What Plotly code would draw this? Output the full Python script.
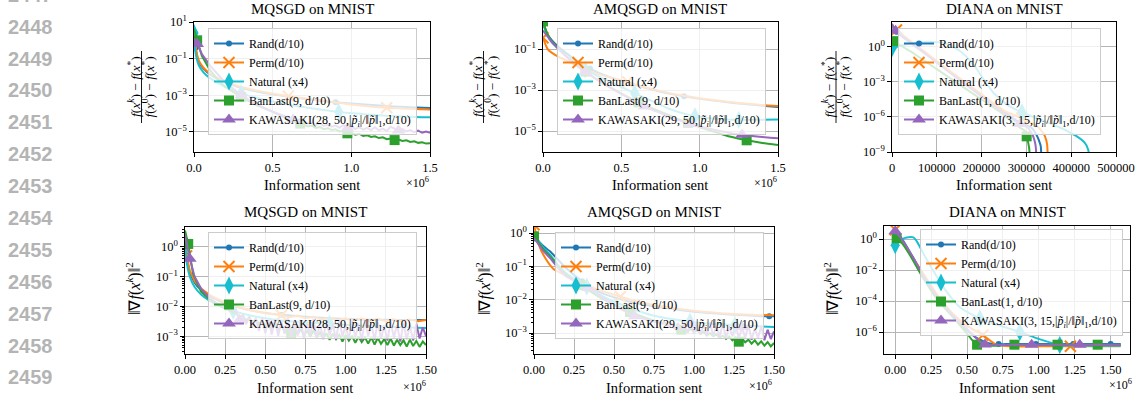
import numpy as np
import plotly.graph_objects as go

W, H = 1138, 400

# ---------------- colours / names ----------------
C_RAND, C_PERM, C_NAT, C_BAN, C_KAW = "#1f77b4", "#ff7f0e", "#17becf", "#2ca02c", "#9467bd"
KAW_TXT = "|<i>p̃</i><sub><i>i</i></sub>|/‖<i>p̃</i>‖<sub>1</sub>,d/10)"
NAMES_A = ["Rand(d/10)", "Perm(d/10)", "Natural (x4)", "BanLast(9, d/10)", "KAWASAKI(28, 50," + KAW_TXT]
NAMES_B = ["Rand(d/10)", "Perm(d/10)", "Natural (x4)", "BanLast(9, d/10)", "KAWASAKI(29, 50," + KAW_TXT]
NAMES_C = ["Rand(d/10)", "Perm(d/10)", "Natural (x4)", "BanLast(1, d/10)", "KAWASAKI(3, 15," + KAW_TXT]
TITLES = ["MQSGD on MNIST", "AMQSGD on MNIST", "DIANA on MNIST"]
LINE_NUMBERS = ["2447", "2448", "2449", "2450", "2451", "2452", "2453",
                "2454", "2455", "2456", "2457", "2458", "2459"]

# ---------------- data (y as log10 values) ----------------
# Top-left: MQSGD, relative f gap, x in 1e6 units
tl_rand_x = [0, 0.01, 0.03, 0.06, 0.1, 0.2, 0.3, 0.5, 0.75, 0.9, 1.0, 1.25, 1.5]
tl_rand_y = [0.7, -0.4, -1.15, -1.55, -1.85, -2.3, -2.6, -2.95, -3.25, -3.38, -3.45, -3.6, -3.7]
tl_perm_x = [0, 0.01, 0.03, 0.06, 0.1, 0.2, 0.3, 0.6, 0.75, 1.0, 1.225, 1.5]
tl_perm_y = [0.8, -0.3, -1.1, -1.5, -1.8, -2.25, -2.55, -3.05, -3.22, -3.5, -3.68, -3.78]
tl_nat_x = [0, 0.01, 0.03, 0.06, 0.1, 0.2, 0.3, 0.45, 0.62, 0.75, 0.92, 1.1, 1.22, 1.35, 1.5]
tl_nat_y = [0.4, -0.7, -1.35, -1.75, -2.05, -2.55, -2.9, -3.25, -3.55, -3.72, -3.92, -4.05, -4.12, -4.17, -4.2]
tl_ban_x = [0, 0.02, 0.05, 0.1, 0.15, 0.2, 0.3, 0.4, 0.5, 0.6, 0.675,
            0.7, 0.725, 0.75, 0.775, 0.8, 0.825, 0.85, 0.875, 0.9, 0.925, 0.95, 0.975, 1.0,
            1.025, 1.05, 1.075, 1.1, 1.125, 1.15, 1.175, 1.2, 1.225, 1.25, 1.275, 1.3,
            1.325, 1.35, 1.375, 1.4, 1.425, 1.45, 1.475, 1.5]
tl_ban_y = [0.6, 0.0, -0.85, -1.6, -2.15, -2.55, -3.1, -3.55, -3.9, -4.3, -4.55,
            -4.62, -4.70, -4.66, -4.78, -4.74, -4.85, -4.80, -4.90, -4.86, -4.98, -4.95, -5.08, -5.05,
            -5.15, -5.10, -5.22, -5.18, -5.28, -5.24, -5.34, -5.30, -5.40, -5.36, -5.45, -5.42,
            -5.50, -5.46, -5.55, -5.52, -5.60, -5.57, -5.64, -5.62]
tl_kaw_x = [0, 0.02, 0.05, 0.1, 0.15, 0.2, 0.3, 0.4, 0.5, 0.6, 0.63,
            0.65, 0.675, 0.7, 0.725, 0.75, 0.775, 0.8, 0.825, 0.85, 0.875, 0.9, 0.925, 0.95,
            0.975, 1.0, 1.025, 1.05, 1.075, 1.1, 1.125, 1.15, 1.175, 1.2, 1.225, 1.25, 1.275,
            1.3, 1.325, 1.35, 1.375, 1.4, 1.425, 1.45, 1.475, 1.5]
tl_kaw_y = [0.1, -0.2, -0.75, -1.35, -1.85, -2.3, -3.0, -3.5, -3.9, -4.22, -4.33,
            -4.40, -4.45, -4.42, -4.55, -4.50, -4.62, -4.55, -4.68, -4.60, -4.72, -4.66, -4.78, -4.62,
            -4.80, -4.70, -4.85, -4.74, -4.88, -4.78, -4.90, -4.75, -4.92, -4.82, -4.95, -4.72, -4.80,
            -4.92, -4.85, -4.98, -4.90, -5.02, -4.93, -5.05, -4.98, -5.05]

# Top-middle: AMQSGD, relative f gap
tm_rand_x = [0, 0.03, 0.06, 0.1, 0.15, 0.2, 0.3, 0.4, 0.5, 0.6, 0.75, 0.9, 1.0, 1.1, 1.25, 1.4, 1.5]
tm_rand_y = [0.3, -0.3, -0.6, -0.9, -1.2, -1.5, -1.95, -2.3, -2.55, -2.78, -3.08, -3.3, -3.42, -3.52, -3.66, -3.76, -3.82]
tm_perm_x = [0, 0.03, 0.06, 0.1, 0.15, 0.2, 0.3, 0.4, 0.54, 0.6, 0.75, 0.9, 1.0, 1.1, 1.25, 1.4, 1.5]
tm_perm_y = [-0.45, -1.0, -1.2, -1.38, -1.55, -1.75, -2.08, -2.33, -2.6, -2.75, -3.05, -3.28, -3.4, -3.5, -3.63, -3.73, -3.78]
tm_nat_x = [0, 0.03, 0.06, 0.1, 0.15, 0.2, 0.27, 0.4, 0.5, 0.585, 0.7, 0.8, 0.9, 0.97, 1.05, 1.15, 1.25, 1.35, 1.5]
tm_nat_y = [0.2, -0.35, -0.7, -1.0, -1.35, -1.65, -2.0, -2.5, -2.85, -3.15, -3.55, -3.9, -4.15, -4.28, -4.36, -4.42, -4.45, -4.45, -4.43]
tm_ban_x = [0, 0.03, 0.06, 0.1, 0.15, 0.2, 0.27, 0.35, 0.45, 0.61, 0.75, 0.85, 0.925, 1.0, 1.1, 1.2, 1.3, 1.4, 1.5]
tm_ban_y = [0.35, -0.3, -0.65, -0.95, -1.35, -1.7, -2.1, -2.5, -2.95, -3.6, -4.05, -4.38, -4.6, -4.82, -5.05, -5.28, -5.45, -5.58, -5.68]
tm_kaw_x = [0, 0.03, 0.06, 0.1, 0.15, 0.2, 0.27, 0.35, 0.45, 0.55, 0.65, 0.75, 0.85, 0.94, 1.0, 1.1, 1.2, 1.27, 1.35, 1.45, 1.5]
tm_kaw_y = [-0.1, -0.4, -0.7, -1.0, -1.38, -1.72, -2.12, -2.52, -2.98, -3.4, -3.8, -4.12, -4.42, -4.66, -4.78, -4.95, -5.1, -5.18, -5.25, -5.32, -5.35]

# Top-right: DIANA, relative f gap, raw information sent
tr_rand_x = [0, 10000, 50000, 100000, 150000, 200000, 250000, 280000, 300000, 312000, 322000, 328000, 332000, 334000]
tr_rand_y = [1.8, 1.3, 0.1, -1.3, -2.75, -4.15, -5.55, -6.35, -6.7, -6.95, -7.5, -8.0, -8.5, -12]
tr_perm_x = [0, 10000, 50000, 100000, 150000, 200000, 250000, 289500, 305000, 319000, 332000, 341500, 346000, 349000]
tr_perm_y = [1.9, 1.45, 0.25, -1.2, -2.65, -4.05, -5.45, -6.1, -6.4, -6.66, -7.1, -7.66, -8.3, -12]
tr_nat_x = [0, 40000, 80000, 120000, 150000, 180000, 205000, 226000, 255000, 290000, 330000, 375000, 410000, 430000, 438000, 442000]
tr_nat_y = [-0.1, 0.3, 0.45, 0.3, -0.3, -1.4, -2.8, -3.9, -4.9, -5.6, -6.2, -6.9, -7.6, -8.2, -8.8, -12]
tr_ban_x = [0, 5000, 50000, 100000, 150000, 200000, 245000, 267000, 285000, 297000, 300600, 304000, 306500, 308000]
tr_ban_y = [0.8, 0.5, -0.6, -1.9, -3.2, -4.5, -5.66, -6.4, -6.9, -7.2, -7.66, -8.2, -8.8, -12]
tr_kaw_x = [0, 8000, 50000, 100000, 150000, 200000, 250000, 285700, 303600, 312000, 318000, 321000, 323000]
tr_kaw_y = [2.0, 1.4, 0.15, -1.35, -2.8, -4.25, -5.7, -6.6, -6.94, -7.4, -8.0, -8.6, -12]

# Bottom-left: MQSGD, squared gradient norm
bl_rand_x = [0, 0.01, 0.03, 0.06, 0.1, 0.15, 0.2, 0.3, 0.4, 0.5, 0.6, 0.75, 0.9, 1.0, 1.1, 1.25, 1.4, 1.5]
bl_rand_y = [0.5, -0.3, -0.85, -1.2, -1.45, -1.63, -1.78, -1.98, -2.12, -2.22, -2.28, -2.35, -2.4, -2.42, -2.44, -2.45, -2.46, -2.46]
bl_perm_x = [0, 0.01, 0.03, 0.06, 0.1, 0.15, 0.2, 0.3, 0.4, 0.5, 0.6, 0.65, 0.7, 0.75, 0.8, 0.85, 0.9,
             0.95, 1.0, 1.05, 1.1, 1.15, 1.2, 1.25, 1.3, 1.35, 1.4, 1.45, 1.5]
bl_perm_y = [0.3, -0.3, -0.8, -1.15, -1.4, -1.6, -1.75, -1.97, -2.12, -2.23, -2.3, -2.36, -2.31, -2.4, -2.35, -2.44, -2.38,
             -2.46, -2.4, -2.48, -2.41, -2.49, -2.42, -2.5, -2.43, -2.5, -2.44, -2.5, -2.46]
bl_nat_x = [0, 0.01, 0.03, 0.06, 0.1, 0.15, 0.2, 0.3, 0.4, 0.5, 0.6, 0.75, 0.9, 1.0, 1.1, 1.25, 1.4, 1.5]
bl_nat_y = [0.4, -0.5, -1.0, -1.35, -1.6, -1.8, -1.95, -2.15, -2.3, -2.4, -2.47, -2.53, -2.58, -2.62, -2.65, -2.68, -2.71, -2.73]
bl_ban_x = [0, 0.02, 0.05, 0.1, 0.15, 0.2, 0.3,
            0.32, 0.34, 0.36, 0.38, 0.40, 0.42, 0.44, 0.46, 0.48, 0.50, 0.52, 0.54, 0.56, 0.58, 0.60,
            0.62, 0.64, 0.66, 0.68, 0.70, 0.72, 0.74, 0.76, 0.78, 0.80, 0.82, 0.84, 0.86, 0.88, 0.90,
            0.92, 0.94, 0.96, 0.98, 1.00, 1.02, 1.04, 1.06, 1.08, 1.10, 1.12, 1.14, 1.16, 1.18, 1.20,
            1.22, 1.24, 1.26, 1.28, 1.30, 1.32, 1.34, 1.36, 1.38, 1.40, 1.42, 1.44, 1.46, 1.48, 1.50]
bl_ban_y = [0.55, 0.1, -0.9, -1.5, -1.75, -1.95, -2.2,
            -2.22, -2.40, -2.30, -2.48, -2.36, -2.55, -2.42, -2.60, -2.47, -2.68, -2.52, -2.75, -2.60, -2.80, -2.62,
            -2.85, -2.70, -2.90, -2.72, -2.95, -2.76, -2.98, -2.82, -3.02, -2.80, -3.05, -2.88, -3.08, -2.90, -3.12,
            -2.92, -3.10, -2.95, -3.18, -2.96, -3.15, -3.00, -3.22, -3.02, -3.20, -3.04, -3.25, -3.05, -3.28, -3.06,
            -3.26, -3.10, -3.30, -3.08, -3.32, -3.12, -3.30, -3.14, -3.35, -3.12, -3.33, -3.16, -3.36, -3.18, -3.30]
bl_kaw_x = [0, 0.03, 0.06, 0.1, 0.15, 0.2, 0.3,
            0.32, 0.34, 0.36, 0.38, 0.40, 0.42, 0.44, 0.46, 0.48, 0.50, 0.52, 0.54, 0.56, 0.58, 0.60,
            0.62, 0.64, 0.66, 0.68, 0.70, 0.72, 0.74, 0.76, 0.78, 0.80, 0.82, 0.84, 0.86, 0.88, 0.90,
            0.92, 0.94, 0.96, 0.98, 1.00, 1.02, 1.04, 1.06, 1.08, 1.10, 1.12, 1.14, 1.16, 1.18, 1.20,
            1.22, 1.24, 1.26, 1.28, 1.30, 1.32, 1.34, 1.36, 1.38, 1.40, 1.42, 1.44, 1.46, 1.48, 1.50]
bl_kaw_y = [0.4, -0.4, -1.0, -1.4, -1.7, -1.9, -2.15,
            -2.20, -2.45, -2.28, -2.60, -2.35, -2.70, -2.40, -2.82, -2.38, -2.90, -2.45, -2.95, -2.42, -3.00, -2.50,
            -2.92, -2.40, -3.05, -2.52, -2.98, -2.45, -3.08, -2.55, -2.96, -2.42, -3.05, -2.58, -3.10, -2.48, -2.98,
            -2.60, -3.12, -2.45, -3.02, -2.62, -3.10, -2.50, -3.05, -2.58, -3.15, -2.46, -3.00, -2.60, -3.12, -2.52,
            -3.08, -2.64, -3.15, -2.50, -3.05, -2.62, -3.18, -2.55, -3.10, -2.66, -3.15, -2.58, -3.08, -2.70, -3.00]

# Bottom-middle: AMQSGD, squared gradient norm
bm_rand_x = [0, 0.03, 0.06, 0.1, 0.15, 0.2, 0.3, 0.4, 0.5, 0.6, 0.75, 0.9, 1.0, 1.1, 1.25, 1.4, 1.47, 1.5]
bm_rand_y = [-0.1, -0.25, -0.4, -0.55, -0.8, -1.05, -1.45, -1.75, -1.93, -2.06, -2.2, -2.3, -2.36, -2.4, -2.45, -2.49, -2.5, -2.5]
bm_perm_x = [0, 0.03, 0.06, 0.12, 0.225, 0.3, 0.4, 0.54, 0.6, 0.75, 0.9, 1.0, 1.1, 1.25, 1.4, 1.5]
bm_perm_y = [0.25, -0.35, -0.67, -1.07, -1.32, -1.5, -1.7, -1.91, -2.0, -2.16, -2.27, -2.33, -2.38, -2.43, -2.46, -2.47]
bm_nat_x = [0, 0.03, 0.06, 0.1, 0.15, 0.2, 0.33, 0.45, 0.6, 0.75, 0.975, 1.1, 1.256, 1.4, 1.5]
bm_nat_y = [-0.05, -0.25, -0.45, -0.65, -0.95, -1.2, -1.61, -1.95, -2.25, -2.48, -2.66, -2.72, -2.76, -2.8, -2.82]
bm_ban_x = [0, 0.03, 0.06, 0.1, 0.15, 0.2, 0.29, 0.4, 0.5, 0.6, 0.7, 0.8,
            0.82, 0.84, 0.86, 0.88, 0.90, 0.92, 0.94, 0.96, 0.98, 1.00, 1.02, 1.04, 1.06, 1.08, 1.10,
            1.12, 1.14, 1.16, 1.18, 1.20, 1.22, 1.24, 1.26, 1.28, 1.30, 1.32, 1.34, 1.36, 1.38, 1.40,
            1.42, 1.44, 1.46, 1.48, 1.50]
bm_ban_y = [-0.1, -0.3, -0.5, -0.7, -1.0, -1.25, -1.56, -1.9, -2.15, -2.37, -2.55, -2.7,
            -2.72, -2.78, -2.74, -2.84, -2.80, -2.90, -2.84, -2.95, -2.88, -2.98, -2.92, -3.02, -2.96, -3.08, -3.00,
            -3.10, -3.04, -3.14, -3.08, -3.18, -3.10, -3.22, -3.14, -3.26, -3.16, -3.28, -3.20, -3.32, -3.22, -3.35,
            -3.25, -3.38, -3.27, -3.40, -3.30]
bm_kaw_x = [0, 0.03, 0.06, 0.1, 0.15, 0.2, 0.34, 0.45, 0.55, 0.63, 0.72, 0.8,
            0.82, 0.84, 0.86, 0.88, 0.90, 0.92, 0.94, 0.96, 0.98, 1.00, 1.02, 1.04, 1.06, 1.08, 1.10,
            1.12, 1.14, 1.16, 1.18, 1.20, 1.22, 1.24, 1.26, 1.28, 1.30, 1.32, 1.34, 1.36, 1.38, 1.40,
            1.42, 1.44, 1.46, 1.48, 1.50]
bm_kaw_y = [-0.15, -0.35, -0.55, -0.75, -1.05, -1.3, -1.65, -2.0, -2.3, -2.5, -2.62, -2.72,
            -2.70, -2.82, -2.72, -2.88, -2.70, -2.95, -2.68, -3.00, -2.72, -3.02, -2.70, -3.05, -2.75, -3.08, -2.68,
            -3.10, -2.78, -3.12, -2.72, -3.15, -2.80, -3.10, -2.70, -3.18, -2.82, -3.15, -2.75, -3.20, -2.85, -3.15,
            -2.80, -3.22, -2.90, -3.18, -2.95]

# Bottom-right: DIANA, squared gradient norm
br_rand_x = [0, 0.04, 0.1, 0.2, 0.3, 0.4, 0.5, 0.58, 0.65, 0.72, 0.8, 0.98, 1.24, 1.5, 1.57]
br_rand_y = [0.5, 0.1, -0.8, -2.4, -3.9, -5.0, -5.9, -6.45, -6.72, -6.78, -6.78, -6.78, -6.78, -6.78, -6.78]
br_perm_x = [0, 0.04, 0.1, 0.2, 0.3, 0.4, 0.5, 0.61, 0.7, 0.8, 1.0, 1.22, 1.5, 1.57]
br_perm_y = [0.6, 0.0, -0.9, -2.3, -3.7, -4.8, -5.6, -6.2, -6.8, -6.92, -6.92, -6.92, -6.92, -6.92]
br_nat_x = [0, 0.04, 0.08, 0.127, 0.16, 0.2, 0.27, 0.35, 0.45, 0.59, 0.7, 0.868, 1.0, 1.146, 1.3, 1.57]
br_nat_y = [-0.4, -0.05, 0.1, 0.1, -0.3, -1.0, -2.13, -3.3, -4.4, -5.12, -5.5, -6.0, -6.45, -6.84, -6.88, -6.88]
br_ban_x = [0, 0.01, 0.05, 0.1, 0.2, 0.3, 0.4, 0.5, 0.57, 0.83, 1.13, 1.41, 1.57]
br_ban_y = [0.3, 0.05, -0.3, -1.0, -2.6, -4.0, -5.0, -6.1, -6.82, -6.82, -6.82, -6.82, -6.82]
br_kaw_x = [0, 0.04, 0.1, 0.2, 0.3, 0.4, 0.5, 0.6, 0.625, 0.95, 1.285, 1.57]
br_kaw_y = [0.5, 0.05, -0.8, -2.4, -3.8, -4.9, -5.8, -6.7, -6.8, -6.82, -6.82, -6.82]

# y tick labels
YT_TL = ([10, 1e-1, 1e-3, 1e-5], ["10<sup>1</sup>", "10<sup>−1</sup>", "10<sup>−3</sup>", "10<sup>−5</sup>"])
YT_TM = ([1e-1, 1e-3, 1e-5], ["10<sup>−1</sup>", "10<sup>−3</sup>", "10<sup>−5</sup>"])
YT_TR = ([1, 1e-3, 1e-6, 1e-9], ["10<sup>0</sup>", "10<sup>−3</sup>", "10<sup>−6</sup>", "10<sup>−9</sup>"])
YT_BL = ([1, 1e-1, 1e-2, 1e-3], ["10<sup>0</sup>", "10<sup>−1</sup>", "10<sup>−2</sup>", "10<sup>−3</sup>"])
YT_BR = ([1, 1e-2, 1e-4, 1e-6], ["10<sup>0</sup>", "10<sup>−2</sup>", "10<sup>−4</sup>", "10<sup>−6</sup>"])

# ---------------- figure ----------------
fig = go.Figure()

STY = [
    dict(color=C_RAND, symbol="circle", size=6, lw=0),
    dict(color=C_PERM, symbol="x-thin", size=11, lw=2),
    dict(color=C_NAT, symbol="diamond-tall", size=13, lw=0),
    dict(color=C_BAN, symbol="square", size=10, lw=0),
    dict(color=C_KAW, symbol="triangle-up", size=12, lw=0),
]


def mk(s):
    return dict(color=s["color"], symbol=s["symbol"], size=s["size"],
                line=dict(color=s["color"], width=s["lw"]))


def add_curve(k, xs, ly, marks, name, sty, legend, shape):
    xa = "x" if k == 1 else f"x{k}"
    ya = "y" if k == 1 else f"y{k}"
    y = (10.0 ** np.array(ly)).tolist()
    fig.add_trace(go.Scatter(x=xs, y=y, mode="lines", xaxis=xa, yaxis=ya,
                             line=dict(color=sty["color"], width=2, shape=shape, smoothing=0.7),
                             showlegend=False, hoverinfo="skip"))
    fig.add_trace(go.Scatter(x=[xs[i] for i in marks], y=[y[i] for i in marks], mode="markers",
                             xaxis=xa, yaxis=ya, marker=mk(sty), showlegend=False, hoverinfo="skip"))
    fig.add_trace(go.Scatter(x=[None], y=[None], mode="lines+markers", xaxis=xa, yaxis=ya,
                             line=dict(color=sty["color"], width=2), marker=mk(sty),
                             name=name, legend=legend, showlegend=True))


panels = [
    (1, [(tl_rand_x, tl_rand_y, [1, 9], "spline"), (tl_perm_x, tl_perm_y, [7, 10], "spline"),
         (tl_nat_x, tl_nat_y, [0, 6, 10], "spline"), (tl_ban_x, tl_ban_y, [1, 6, 10, 22, 34], "linear"),
         (tl_kaw_x, tl_kaw_y, [1, 6, 10, 24, 37], "linear")], NAMES_A, "legend"),
    (2, [(tm_rand_x, tm_rand_y, [6, 11], "spline"), (tm_perm_x, tm_perm_y, [0, 8], "spline"),
         (tm_nat_x, tm_nat_y, [6, 9, 13, 16], "spline"), (tm_ban_x, tm_ban_y, [0, 6, 9, 12, 16], "spline"),
         (tm_kaw_x, tm_kaw_y, [6, 10, 13, 17], "spline")], NAMES_B, "legend2"),
    (3, [(tr_rand_x, tr_rand_y, [1], "spline"), (tr_perm_x, tr_perm_y, [1, 7], "spline"),
         (tr_nat_x, tr_nat_y, [0, 9], "spline"), (tr_ban_x, tr_ban_y, [1, 10], "spline"),
         (tr_kaw_x, tr_kaw_y, [1, 7], "spline")], NAMES_C, "legend3"),
    (4, [(bl_rand_x, bl_rand_y, [1, 10], "spline"), (bl_perm_x, bl_perm_y, [1, 10], "linear"),
         (bl_nat_x, bl_nat_y, [7, 12], "spline"), (bl_ban_x, bl_ban_y, [1, 24], "linear"),
         (bl_kaw_x, bl_kaw_y, [1, 8], "linear")], NAMES_A, "legend4"),
    (5, [(bm_rand_x, bm_rand_y, [6, 16], "spline"), (bm_perm_x, bm_perm_y, [0, 7], "spline"),
         (bm_nat_x, bm_nat_y, [6, 10, 12], "spline"), (bm_ban_x, bm_ban_y, [0, 6, 9, 17, 35], "linear"),
         (bm_kaw_x, bm_kaw_y, [6, 9, 20, 36], "linear")], NAMES_B, "legend5"),
    (6, [(br_rand_x, br_rand_y, [0, 9, 11, 12, 13], "spline"), (br_perm_x, br_perm_y, [0, 7, 11], "spline"),
         (br_nat_x, br_nat_y, [0, 9, 11, 13], "spline"), (br_ban_x, br_ban_y, [1, 8, 9, 10, 11], "spline"),
         (br_kaw_x, br_kaw_y, [0, 8, 9, 10], "spline")], NAMES_C, "legend6"),
]

for k, curves, names, leg in panels:
    for (xs, ly, marks, shape), nm, sty in zip(curves, names, STY):
        add_curve(k, xs, ly, marks, nm, sty, leg, shape)


def px_x(p):
    return p / W


def px_y(p):
    return 1 - p / H


common = dict(showline=True, linecolor="black", linewidth=1.3, mirror=True, ticks="outside",
              ticklen=3.5, tickwidth=1, tickcolor="black", showgrid=True, gridcolor="#b5b5b5",
              gridwidth=0.8, zeroline=False, automargin=False, tickfont=dict(size=12.5, color="black"))


def minor_vals(lo, hi):
    return [m * 10.0 ** e for e in range(lo, hi) for m in range(2, 10)]


# (k, xpx0, xpx1, ypx0, ypx1, xrange, xticks, xfmt, yrange, yticks, minor)
axes = [
    (1, 194, 430, 22, 152, [0, 1.5], [0, 0.5, 1.0, 1.5], ".1f", [-6.1, 1.0], YT_TL, None),
    (2, 543, 778, 22, 152, [0, 1.5], [0, 0.5, 1.0, 1.5], ".1f", [-6.02, 0.32], YT_TM, None),
    (3, 892, 1116, 22, 152, [0, 500000], [0, 100000, 200000, 300000, 400000, 500000], "d",
     [-9.0, 2.14], YT_TR, None),
    (4, 185, 426, 227, 354, [0, 1.5], [0, 0.25, 0.5, 0.75, 1.0, 1.25, 1.5], ".2f", [-3.6, 0.67], YT_BL,
     minor_vals(-4, 1)),
    (5, 534, 774, 227, 354, [0, 1.5], [0, 0.25, 0.5, 0.75, 1.0, 1.25, 1.5], ".2f", [-3.63, 0.18], YT_BL,
     minor_vals(-4, 1)),
    (6, 884, 1130, 226, 354, [-0.078, 1.635], [0, 0.25, 0.5, 0.75, 1.0, 1.25, 1.5], ".2f", [-7.42, 0.84],
     YT_BR, None),
]

lay = {}
for k, x0, x1, y0, y1, xr, xt, xf, yr, yt, mnr in axes:
    xs = "xaxis" if k == 1 else f"xaxis{k}"
    ys = "yaxis" if k == 1 else f"yaxis{k}"
    xa = "x" if k == 1 else f"x{k}"
    ya = "y" if k == 1 else f"y{k}"
    lay[xs] = dict(common, domain=[px_x(x0), px_x(x1)], anchor=ya, range=xr, tickmode="array",
                   tickvals=xt, tickformat=xf)
    yd = dict(common, domain=[px_y(y1), px_y(y0)], anchor=xa, type="log", range=yr, tickmode="array",
              tickvals=yt[0], ticktext=yt[1])
    if mnr is not None:
        yd["minor"] = dict(tickmode="array", tickvals=mnr, ticks="outside", ticklen=2, tickwidth=0.8,
                           tickcolor="black", showgrid=False)
    lay[ys] = yd

# legends
leg_pos = {"legend": (208, 28), "legend2": (557, 28), "legend3": (898, 28),
           "legend4": (208, 232), "legend5": (555, 232), "legend6": (920, 229)}
for lg, (lx, ly_) in leg_pos.items():
    lay[lg] = dict(x=px_x(lx), y=px_y(ly_), xanchor="left", yanchor="top",
                   bgcolor="rgba(255,255,255,0.8)", bordercolor="#cccccc", borderwidth=1,
                   font=dict(family="Liberation Serif", size=12, color="black"),
                   traceorder="normal", itemwidth=30)

ann = []
SERIF = "Liberation Serif"
# titles
for cx, cy, t in [(312, 9, TITLES[0]), (660, 9, TITLES[1]), (1004, 9, TITLES[2]),
                  (305, 212, TITLES[0]), (654, 212, TITLES[1]), (1007, 212, TITLES[2])]:
    ann.append(dict(x=px_x(cx), y=px_y(cy), xref="paper", yref="paper", text=t, showarrow=False,
                    xanchor="center", yanchor="middle", font=dict(family=SERIF, size=15)))
# x labels
for cx, cy in [(312, 185), (660, 185), (1004, 185), (305, 388), (654, 388), (1007, 388)]:
    ann.append(dict(x=px_x(cx), y=px_y(cy), xref="paper", yref="paper", text="Information sent",
                    showarrow=False, xanchor="center", yanchor="middle", font=dict(family=SERIF, size=14.5)))
# x10^6 offsets
for rx, cy in [(431, 182), (779, 182), (428, 386), (774, 385), (1134, 384)]:
    ann.append(dict(x=px_x(rx), y=px_y(cy), xref="paper", yref="paper", text="×10<sup>6</sup>",
                    showarrow=False, xanchor="right", yanchor="middle", font=dict(family=SERIF, size=12)))
# y labels (top row fractions)
NUM = "<i>f</i>(<i>x</i><sup><i>k</i></sup>) − <i>f</i>(<i>x</i><sup>*</sup>)"
DEN = "<i>f</i>(<i>x</i><sup>0</sup>) − <i>f</i>(<i>x</i><sup>*</sup>)"
shapes = []
for nx, bx, dx in [(134, 141.5, 148.5), (476, 483.5, 491), (828.5, 836, 843.5)]:
    ann.append(dict(x=px_x(nx), y=px_y(87), xref="paper", yref="paper", text=NUM, textangle=-90,
                    showarrow=False, xanchor="center", yanchor="middle", font=dict(family=SERIF, size=13.5)))
    ann.append(dict(x=px_x(dx), y=px_y(87), xref="paper", yref="paper", text=DEN, textangle=-90,
                    showarrow=False, xanchor="center", yanchor="middle", font=dict(family=SERIF, size=13.5)))
    shapes.append(dict(type="line", xref="paper", yref="paper", x0=px_x(bx), x1=px_x(bx),
                       y0=px_y(51), y1=px_y(123), line=dict(color="black", width=0.9)))
# y labels (bottom row)
GRAD = "‖∇<i>f</i>(<i>x</i><sup><i>k</i></sup>)‖<sup>2</sup>"
for cx in [133, 483, 831]:
    ann.append(dict(x=px_x(cx), y=px_y(289), xref="paper", yref="paper", text=GRAD, textangle=-90,
                    showarrow=False, xanchor="center", yanchor="middle", font=dict(family=SERIF, size=16)))
# line numbers
for i, t in enumerate(LINE_NUMBERS):
    cy = -5 + 31.8 * i if i < 7 else 218.3 + 31.8 * (i - 7)
    ann.append(dict(x=px_x(55), y=px_y(cy), xref="paper", yref="paper", text="<b>" + t + "</b>",
                    showarrow=False, xanchor="right", yanchor="middle",
                    font=dict(family="Liberation Sans", size=20, color="#b4b4b4")))

fig.update_layout(width=W, height=H, margin=dict(l=0, r=0, t=0, b=0, pad=0, autoexpand=False),
                  paper_bgcolor="white", plot_bgcolor="white",
                  font=dict(family=SERIF, size=12.5, color="black"),
                  annotations=ann, shapes=shapes, showlegend=True, **lay)

fig.write_html("out.html", config={"displayModeBar": False},
               post_script="document.body.style.margin='0px';")
